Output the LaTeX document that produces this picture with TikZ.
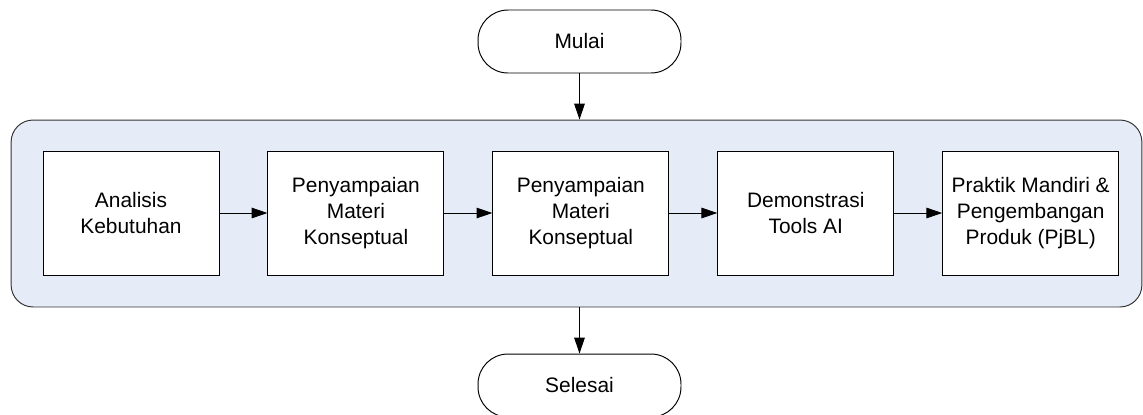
\documentclass[tikz,border=0pt]{standalone}
\usepackage{fontspec}
\setmainfont{Liberation Sans}
\usetikzlibrary{positioning, arrows.meta}
\definecolor{panelblue}{RGB}{230,236,247}

\tikzset{
  stepbox/.style={draw=black, fill=white, line width=0.55pt, minimum width=3.52cm,
    minimum height=2.48cm, align=center, inner sep=2pt,
    font=\fontsize{11.9}{14.6}\selectfont},
  terminal/.style={draw=black, fill=white, line width=0.55pt, rounded corners=0.6cm,
    minimum width=4.06cm, minimum height=1.26cm,
    font=\fontsize{11.9}{14.6}\selectfont},
  panel/.style={draw=black!80, fill=panelblue, line width=0.55pt, rounded corners=0.44cm,
    minimum width=22.62cm, minimum height=3.74cm},
  flow/.style={-{Triangle[length=9pt, width=6pt]}, line width=0.55pt}
}

\begin{document}
\begin{tikzpicture}[x=0.02cm, y=-0.02cm, node distance=0.96cm]
    \useasboundingbox (0,0) rectangle (1143,414);

    % background panel holding the steps
    \node[panel] (panel) at (576.5,213.5) {};

    % start and end
    \node[terminal] (mulai) at (579.5,41.5) {Mulai};
    \node[terminal] (selesai) at (579.5,385.5) {Selesai};

    % the five steps
    \node[stepbox] (analisis) at (131,213) {Analisis\\Kebutuhan};
    \node[stepbox, right=of analisis] (materi1) {Penyampaian\\Materi\\Konseptual};
    \node[stepbox, right=of materi1] (materi2) {Penyampaian\\Materi\\Konseptual};
    \node[stepbox, right=of materi2] (demo) {Demonstrasi\\Tools AI};
    \node[stepbox, right=of demo] (praktik) {Praktik Mandiri \&\\Pengembangan\\Produk (PjBL)};

    \draw[flow] (analisis) -- (materi1);
    \draw[flow] (materi1) -- (materi2);
    \draw[flow] (materi2) -- (demo);
    \draw[flow] (demo) -- (praktik);

    \draw[flow] (mulai) -- (mulai |- panel.north);
    \draw[flow] (selesai |- panel.south) -- (selesai);
\end{tikzpicture}
\end{document}
